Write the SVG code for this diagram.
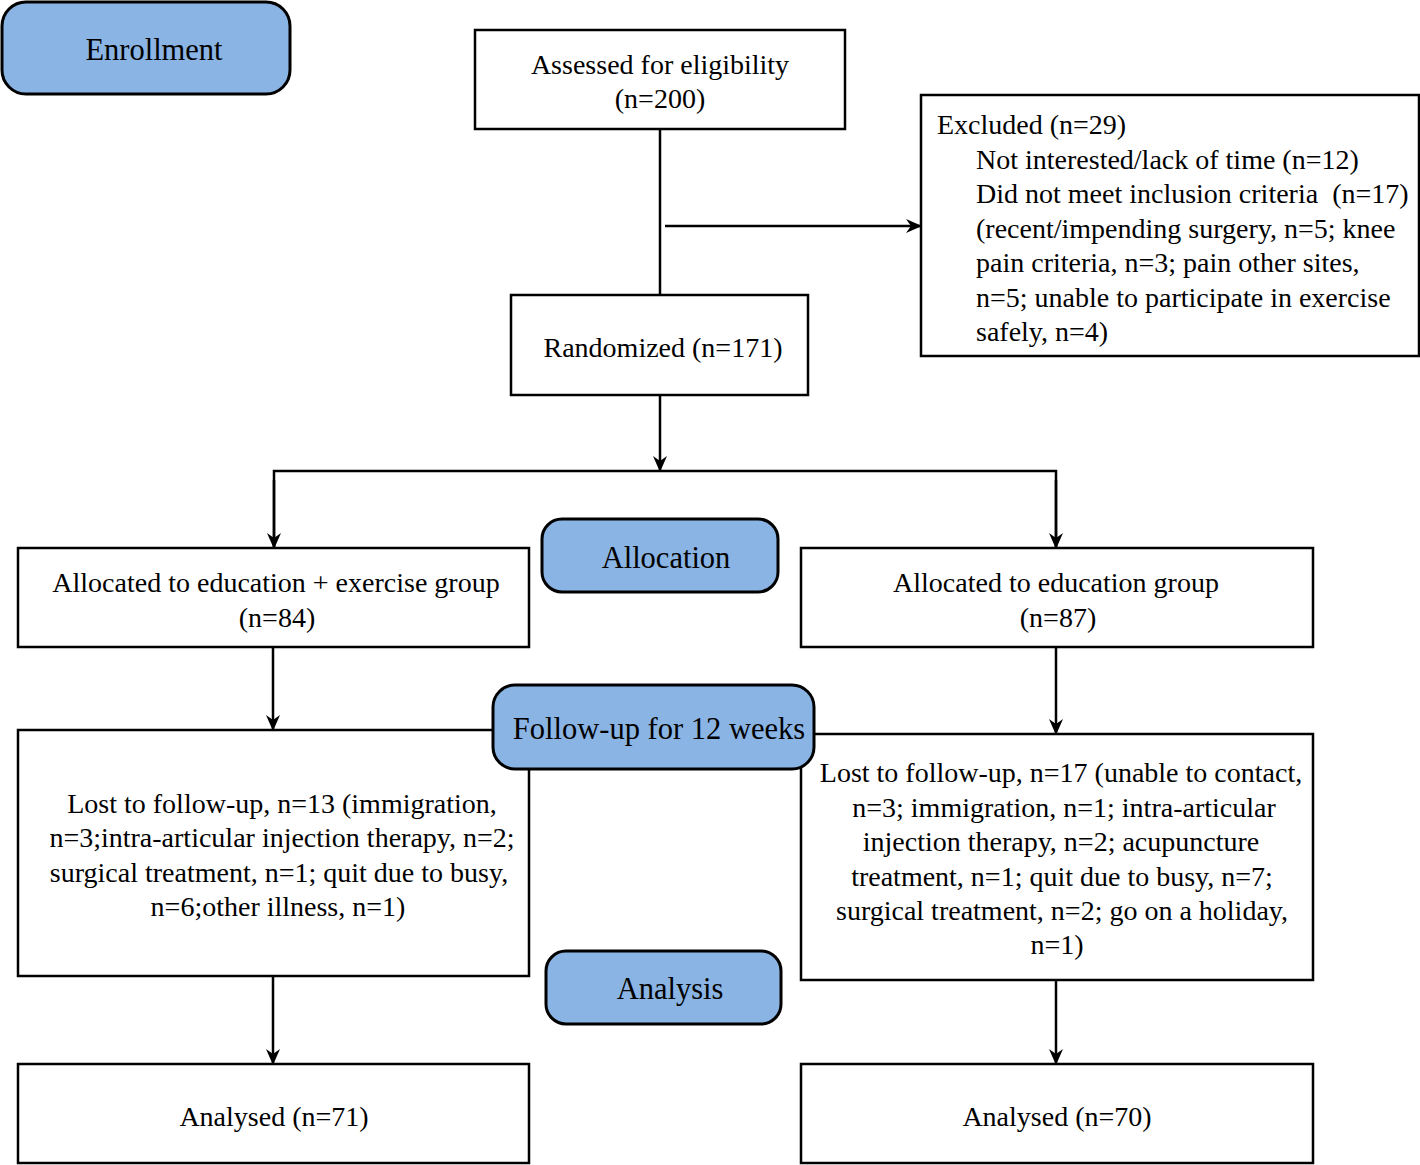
<svg xmlns="http://www.w3.org/2000/svg" width="1420" height="1165" viewBox="0 0 1420 1165">
<style>
.box{fill:#fff;stroke:#000;stroke-width:2.5}
.pill{fill:#8AB4E3;stroke:#000;stroke-width:3}
text{font-family:"Liberation Serif","Times New Roman",serif;font-size:28px;fill:#000;white-space:pre}
.p{font-size:30.5px}
.c{text-anchor:middle}
.ln{fill:none;stroke:#000;stroke-width:2.5}
</style>
<defs>
<marker id="a" viewBox="0 0 16 16" refX="15" refY="8" markerWidth="16" markerHeight="16" orient="auto" markerUnits="userSpaceOnUse">
<path d="M0,1 L16,8 L0,15 L5,8 z" fill="#000"/>
</marker>
</defs>
<g id="connectors">
<path class="ln" d="M660,129 V295"/>
<path class="ln" d="M665,226 H921" marker-end="url(#a)"/>
<path class="ln" d="M660,395 V471" marker-end="url(#a)"/>
<path class="ln" d="M274,548 V471 H1056 V548" />
<path class="ln" d="M274,480 V548" marker-end="url(#a)"/>
<path class="ln" d="M1056,480 V548" marker-end="url(#a)"/>
<path class="ln" d="M273,647 V730" marker-end="url(#a)"/>
<path class="ln" d="M1056,647 V734" marker-end="url(#a)"/>
<path class="ln" d="M273,976 V1064" marker-end="url(#a)"/>
<path class="ln" d="M1056,980 V1064" marker-end="url(#a)"/>
</g>
<g id="enrollment"><rect class="pill" x="2" y="2" width="288" height="92" rx="24"/><text class="c p" x="154" y="60">Enrollment</text></g>
<g id="assessed"><rect class="box" x="475" y="30" width="370" height="99"/><text class="c" x="660" y="74">Assessed for eligibility</text><text class="c" x="660" y="108">(n=200)</text></g>
<g id="excluded"><rect class="box" x="921" y="95" width="498" height="261"/>
<text x="937" y="134">Excluded (n=29)</text>
<text x="976" y="169">Not interested/lack of time (n=12)</text>
<text x="976" y="203">Did not meet inclusion criteria  (n=17)</text>
<text x="976" y="238">(recent/impending surgery, n=5; knee</text>
<text x="976" y="272">pain criteria, n=3; pain other sites,</text>
<text x="976" y="307">n=5; unable to participate in exercise</text>
<text x="976" y="341">safely, n=4)</text>
</g>
<g id="randomized"><rect class="box" x="511" y="295" width="297" height="100"/><text class="c" x="663" y="357">Randomized (n=171)</text></g>
<g id="alloc-left"><rect class="box" x="18" y="548" width="511" height="99"/><text class="c" x="276" y="592">Allocated to education + exercise group</text><text class="c" x="277" y="627">(n=84)</text></g>
<g id="alloc-right"><rect class="box" x="801" y="548" width="512" height="99"/><text class="c" x="1056" y="592">Allocated to education group</text><text class="c" x="1058" y="627">(n=87)</text></g>
<g id="allocation"><rect class="pill" x="542" y="519" width="236" height="73" rx="20"/><text class="c p" x="666" y="568">Allocation</text></g>
<g id="lost-left"><rect class="box" x="18" y="730" width="511" height="246"/>
<text class="c" x="282" y="813">Lost to follow-up, n=13 (immigration,</text>
<text class="c" x="282" y="847">n=3;intra-articular injection therapy, n=2;</text>
<text class="c" x="279" y="882">surgical treatment, n=1; quit due to busy,</text>
<text class="c" x="278" y="916">n=6;other illness, n=1)</text>
</g>
<g id="lost-right"><rect class="box" x="801" y="734" width="512" height="246"/>
<text class="c" x="1061" y="782">Lost to follow-up, n=17 (unable to contact,</text>
<text class="c" x="1064" y="817">n=3; immigration, n=1; intra-articular</text>
<text class="c" x="1061" y="851">injection therapy, n=2; acupuncture</text>
<text class="c" x="1062" y="886">treatment, n=1; quit due to busy, n=7;</text>
<text class="c" x="1062" y="920">surgical treatment, n=2; go on a holiday,</text>
<text class="c" x="1057" y="954">n=1)</text>
</g>
<g id="followup"><rect class="pill" x="493" y="685" width="321" height="84" rx="22"/><text class="c p" x="659" y="739">Follow-up for 12 weeks</text></g>
<g id="analysis"><rect class="pill" x="546" y="951" width="235" height="73" rx="20"/><text class="c p" x="670" y="999">Analysis</text></g>
<g id="analysed-left"><rect class="box" x="18" y="1064" width="511" height="99"/><text class="c" x="274" y="1126">Analysed (n=71)</text></g>
<g id="analysed-right"><rect class="box" x="801" y="1064" width="512" height="99"/><text class="c" x="1057" y="1126">Analysed (n=70)</text></g>
</svg>
